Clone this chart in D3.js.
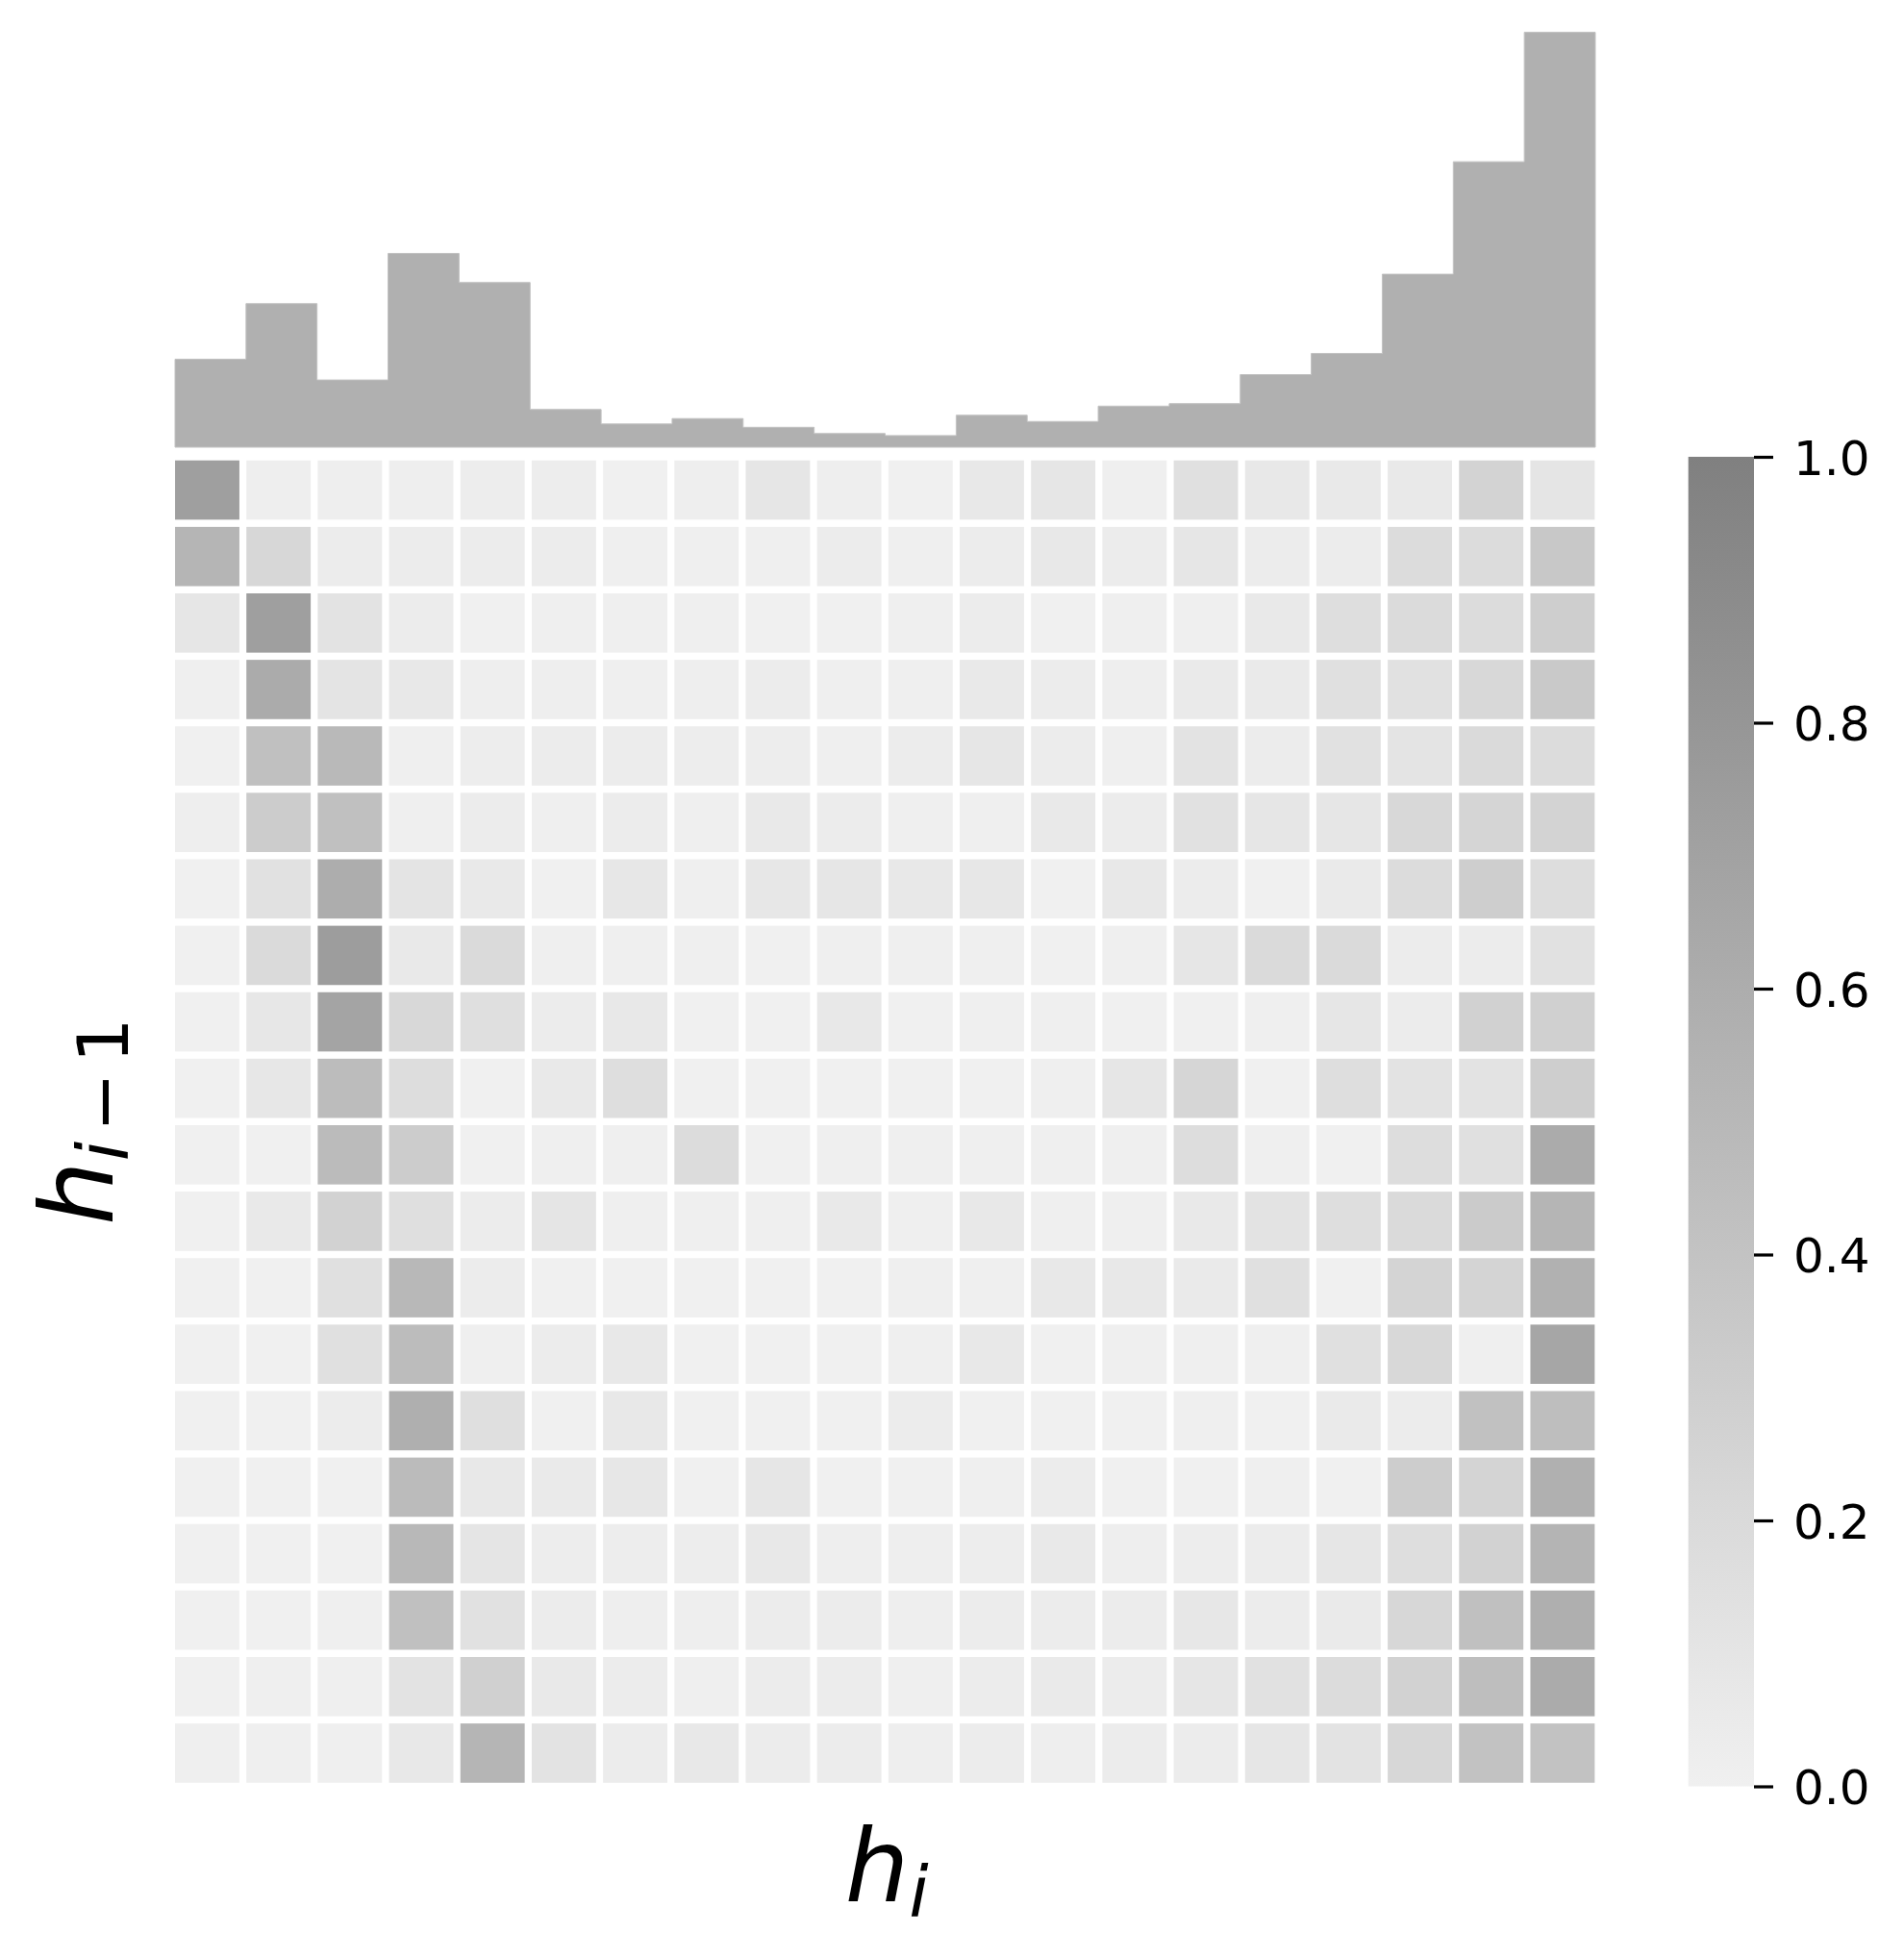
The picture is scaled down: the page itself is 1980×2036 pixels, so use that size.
<!DOCTYPE html>
<html>
<head>
<meta charset="utf-8">
<script src="https://cdn.jsdelivr.net/npm/d3@7"></script>
<style>
  html, body { margin: 0; padding: 0; background: #ffffff; }
  svg { display: block; }
</style>
</head>
<body>
<svg id="chart" width="1980" height="2036"></svg>
<script>
// ---------------- data ----------------
const binIndex = d3.range(20);                       // 20 bins / categories
const histCounts = [212,346,162,467,397,91,56,69,48,33,28,77,62,99,105,175,226,417,688,1000];
const heatValues = [
  [0.72,0.02,0.02,0.02,0.03,0.03,0.00,0.02,0.09,0.02,0.00,0.07,0.09,0.01,0.14,0.07,0.06,0.06,0.26,0.10],
  [0.53,0.22,0.04,0.04,0.04,0.04,0.01,0.01,0.01,0.04,0.01,0.04,0.07,0.04,0.09,0.04,0.04,0.18,0.18,0.36],
  [0.09,0.72,0.12,0.04,0.00,0.01,0.01,0.01,0.00,0.00,0.01,0.04,0.00,0.01,0.01,0.06,0.16,0.19,0.18,0.30],
  [0.01,0.62,0.11,0.07,0.02,0.02,0.01,0.02,0.04,0.01,0.01,0.06,0.04,0.02,0.05,0.05,0.14,0.13,0.21,0.35],
  [0.00,0.43,0.49,0.01,0.03,0.04,0.04,0.03,0.03,0.01,0.04,0.09,0.04,0.01,0.12,0.04,0.13,0.11,0.20,0.18],
  [0.02,0.32,0.43,0.01,0.04,0.01,0.04,0.01,0.06,0.04,0.01,0.01,0.06,0.04,0.13,0.09,0.09,0.21,0.24,0.26],
  [0.00,0.13,0.60,0.11,0.06,0.00,0.08,0.01,0.08,0.09,0.07,0.08,0.00,0.07,0.04,0.00,0.05,0.18,0.30,0.17],
  [0.00,0.20,0.74,0.06,0.20,0.01,0.01,0.01,0.00,0.01,0.01,0.01,0.00,0.01,0.09,0.20,0.20,0.04,0.04,0.13],
  [0.00,0.08,0.68,0.21,0.15,0.04,0.07,0.00,0.00,0.07,0.00,0.01,0.01,0.00,0.00,0.01,0.09,0.04,0.28,0.29],
  [0.00,0.08,0.46,0.17,0.00,0.06,0.16,0.00,0.00,0.00,0.00,0.00,0.01,0.09,0.23,0.00,0.16,0.12,0.12,0.30],
  [0.00,0.00,0.47,0.32,0.00,0.01,0.01,0.18,0.00,0.01,0.01,0.01,0.01,0.01,0.17,0.01,0.00,0.17,0.14,0.62],
  [0.00,0.06,0.27,0.15,0.04,0.10,0.01,0.01,0.01,0.06,0.01,0.07,0.01,0.01,0.06,0.12,0.16,0.20,0.33,0.53],
  [0.00,0.00,0.14,0.50,0.04,0.00,0.00,0.00,0.00,0.00,0.01,0.01,0.07,0.07,0.05,0.14,0.00,0.25,0.25,0.56],
  [0.00,0.00,0.14,0.46,0.01,0.04,0.07,0.00,0.00,0.00,0.01,0.07,0.00,0.01,0.01,0.01,0.14,0.21,0.01,0.66],
  [0.00,0.00,0.04,0.58,0.15,0.00,0.07,0.00,0.00,0.00,0.04,0.00,0.00,0.00,0.01,0.00,0.05,0.04,0.42,0.45],
  [0.00,0.00,0.00,0.47,0.07,0.05,0.08,0.00,0.09,0.00,0.00,0.01,0.04,0.00,0.00,0.01,0.00,0.31,0.25,0.57],
  [0.00,0.00,0.00,0.50,0.10,0.03,0.03,0.03,0.07,0.02,0.02,0.03,0.06,0.02,0.03,0.04,0.09,0.16,0.27,0.54],
  [0.00,0.00,0.01,0.43,0.13,0.04,0.02,0.02,0.04,0.04,0.02,0.04,0.04,0.04,0.08,0.04,0.05,0.22,0.43,0.58],
  [0.00,0.01,0.01,0.12,0.29,0.06,0.04,0.01,0.04,0.04,0.01,0.04,0.05,0.04,0.09,0.13,0.18,0.27,0.45,0.62],
  [0.01,0.01,0.01,0.07,0.53,0.12,0.04,0.07,0.04,0.04,0.02,0.04,0.02,0.04,0.04,0.09,0.12,0.22,0.41,0.41]
];
const cbarTicks = [0.0, 0.2, 0.4, 0.6, 0.8, 1.0];
const cbarTickLabels = ["0.0", "0.2", "0.4", "0.6", "0.8", "1.0"];
const xLabelMain = "h", xLabelSub = "i";
const yLabelMain = "h", yLabelSub = "i", yLabelOp = "\u2212", yLabelNum = "1";

// ---------------- layout ----------------
const svg = d3.select("#chart");
const FONT = "'DejaVu Sans', 'Liberation Sans', sans-serif";

const hm = { x0: 178.4, x1: 1662, y0: 475, y1: 1857.5 };
const gapX = 7.3, gapY = 7.5;
const hist = { x0: 182, x1: 1659, yBase: 465, yTop: 12 };
const cbar = { x0: 1755.7, x1: 1824, y0: 475, y1: 1857.5 };

const color = d3.scaleLinear().domain([0, 1]).range(["#f0f0f0", "#808080"]).clamp(true);

// ---------------- heatmap ----------------
const xBand = d3.scaleBand().domain(binIndex).range([hm.x0, hm.x1]).padding(0);
const yBand = d3.scaleBand().domain(binIndex).range([hm.y0, hm.y1]).padding(0);

const cells = [];
heatValues.forEach((row, r) => row.forEach((v, c) => cells.push({ r, c, v })));

svg.append("g").attr("class", "heatmap")
  .selectAll("rect").data(cells).join("rect")
  .attr("x", d => xBand(d.c) + gapX / 2)
  .attr("y", d => yBand(d.r) + gapY / 2)
  .attr("width", xBand.bandwidth() - gapX)
  .attr("height", yBand.bandwidth() - gapY)
  .attr("fill", d => color(d.v));

// ---------------- histogram ----------------
const hx = d3.scaleLinear().domain([0, 20]).range([hist.x0, hist.x1]);
const hy = d3.scaleLinear().domain([0, d3.max(histCounts) * 1.05]).range([hist.yBase, hist.yTop]);

// step outline (stepfilled histogram)
let p = d3.path();
p.moveTo(hx(0), hy(0));
histCounts.forEach((c, i) => { p.lineTo(hx(i), hy(c)); p.lineTo(hx(i + 1), hy(c)); });
p.lineTo(hx(20), hy(0));
p.closePath();
svg.append("path").attr("class", "hist")
  .attr("d", p.toString())
  .attr("fill", "#b0b0b0")
  .attr("stroke", "#c2c2c2")
  .attr("stroke-width", 1);

// ---------------- colorbar ----------------
const defs = svg.append("defs");
const grad = defs.append("linearGradient").attr("id", "cbarGrad")
  .attr("x1", 0).attr("y1", 1).attr("x2", 0).attr("y2", 0);
d3.range(0, 1.0001, 0.1).forEach(t => {
  grad.append("stop").attr("offset", t).attr("stop-color", color(t));
});
const cy = d3.scaleLinear().domain([0, 1]).range([cbar.y1, cbar.y0]);
svg.append("rect")
  .attr("x", cbar.x0).attr("y", cy(1))
  .attr("width", cbar.x1 - cbar.x0).attr("height", cy(0) - cy(1))
  .attr("fill", "url(#cbarGrad)");

const cAxis = d3.axisRight(cy).tickValues(cbarTicks)
  .tickFormat((d, i) => cbarTickLabels[i]).tickSize(20).tickPadding(21);
const cg = svg.append("g").attr("transform", `translate(${cbar.x1},0)`).call(cAxis);
cg.select(".domain").remove();
cg.selectAll(".tick line").attr("stroke", "#000").attr("stroke-width", 3.2);
cg.selectAll(".tick text")
  .attr("font-family", FONT).attr("font-size", 50).attr("fill", "#000")
  .attr("dy", "0.36em");

// ---------------- axis labels ----------------
const LBL = 105, SUB = 73.5;
const xl = svg.append("text")
  .attr("x", (hm.x0 + hm.x1) / 2 + 2).attr("y", 1977)
  .attr("text-anchor", "middle")
  .attr("font-family", FONT).attr("font-size", LBL).attr("font-style", "italic")
  .attr("fill", "#000");
xl.append("tspan").text(xLabelMain);
xl.append("tspan").attr("font-size", SUB).attr("dy", 16).text(xLabelSub);

const yl = svg.append("text")
  .attr("transform", `translate(117,${(hm.y0 + hm.y1) / 2}) rotate(-90)`)
  .attr("text-anchor", "middle")
  .attr("font-family", FONT).attr("font-size", LBL)
  .attr("fill", "#000");
yl.append("tspan").attr("font-style", "italic").text(yLabelMain);
yl.append("tspan").attr("font-style", "italic").attr("font-size", SUB).attr("dy", 16).text(yLabelSub);
yl.append("tspan").attr("font-size", SUB).attr("dx", 10).text(yLabelOp);
yl.append("tspan").attr("font-size", SUB).attr("dx", 10).text(yLabelNum);
</script>
</body>
</html>
